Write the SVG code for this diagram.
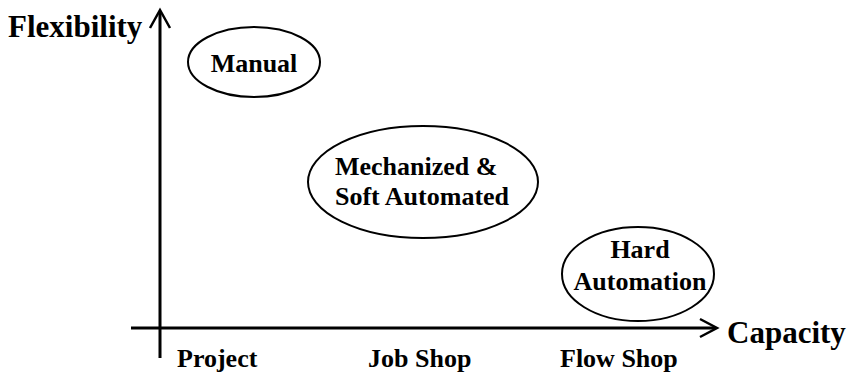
<svg xmlns="http://www.w3.org/2000/svg" width="849" height="376" viewBox="0 0 849 376">
<style>
.ax{fill:none;stroke:#000;stroke-width:3}
.ah{fill:none;stroke:#000;stroke-width:2.5;stroke-linejoin:miter}
.el{fill:#fff;stroke:#000;stroke-width:2}
.t{font-family:"Liberation Serif","Times New Roman",serif;font-weight:bold;font-size:26px;fill:#000}
.big{font-size:31px}
</style>
<rect width="849" height="376" fill="#fff"/>
<g id="connectors">
<line class="ax" x1="160" y1="11" x2="160" y2="358"/>
<polyline class="ah" points="150,28 160,10 170,28"/>
<line class="ax" x1="131" y1="328" x2="715" y2="328"/>
<polyline class="ah" points="700,319 717,328 700,337"/>
</g>
<g id="axis-y-label"><text class="t big" x="8" y="37">Flexibility</text></g>
<g id="axis-x-label"><text class="t big" x="727" y="343">Capacity</text></g>
<g id="manual">
<ellipse class="el" cx="254" cy="62" rx="66" ry="35"/>
<text class="t" x="254" y="72" text-anchor="middle">Manual</text>
</g>
<g id="mechanized">
<ellipse class="el" cx="423" cy="182" rx="115" ry="56"/>
<text class="t" x="335" y="175">Mechanized &amp;</text>
<text class="t" x="335" y="205">Soft Automated</text>
</g>
<g id="hard">
<ellipse class="el" cx="638" cy="274" rx="76" ry="47"/>
<text class="t" x="640" y="258" text-anchor="middle">Hard</text>
<text class="t" x="640" y="290" text-anchor="middle">Automation</text>
</g>
<g id="categories">
<text class="t" x="177" y="367">Project</text>
<text class="t" x="368" y="367">Job Shop</text>
<text class="t" x="560" y="367">Flow Shop</text>
</g>
</svg>
